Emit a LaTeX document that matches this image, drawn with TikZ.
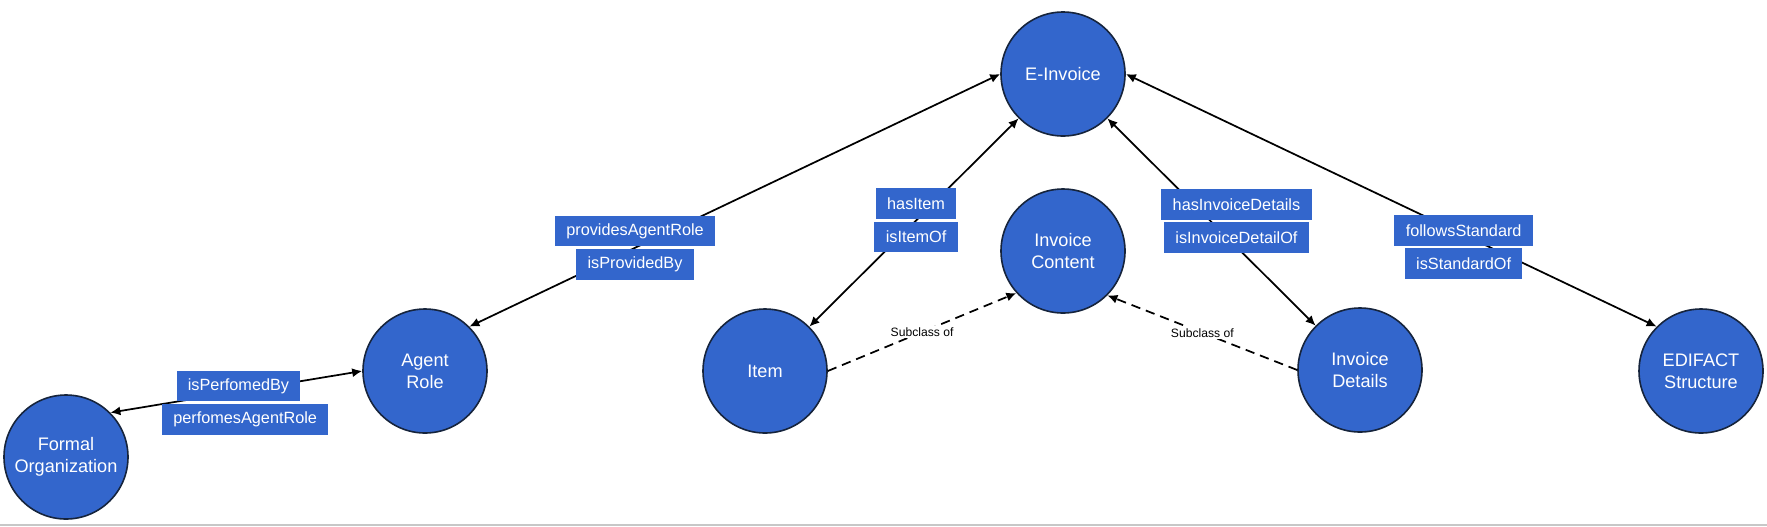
\documentclass[tikz,border=0pt]{standalone}
\usepackage{fontspec}
\setmainfont{Liberation Sans}
\usetikzlibrary{arrows.meta,positioning}
\definecolor{nodeblue}{RGB}{51,102,204}
\definecolor{nodeline}{RGB}{22,36,60}

\begin{document}
\begin{tikzpicture}[x=0.75pt,y=-0.75pt,
concept/.style = {circle, fill=nodeblue, draw=nodeline, line width=1.2pt, minimum size=93pt, inner sep=0pt, align=center, text=white, font=\fontsize{13.6}{16.5}\selectfont},
relbox/.style = {fill=nodeblue, text=white, inner xsep=8.5pt, inner ysep=0pt, minimum height=23pt, font=\fontsize{12.2}{14}\selectfont},
rel/.style = {{Latex[length=7.5pt,width=6.8pt]}-{Latex[length=7.5pt,width=6.8pt]}, line width=1.3pt},
subcl/.style = {-{Latex[length=7.5pt,width=6.8pt]}, dash pattern=on 7pt off 4.5pt, line width=1.3pt},
subcllabel/.style = {fill=white, inner sep=1.5pt, font=\fontsize{9.1}{11}\selectfont}]
\useasboundingbox (0,0) rectangle (1767,526);
\draw[black!22, line width=1.5pt] (0,525) -- (1767,525);

\node[concept] (einv) at (1063,74) {E-Invoice};
\node[concept] (content) at (1063,251) {Invoice\\Content};
\node[concept] (agent) at (425,371) {Agent\\Role};
\node[concept] (item) at (765,371) {Item};
\node[concept] (details) at (1360,370) {Invoice\\Details};
\node[concept] (edifact) at (1701,371) {EDIFACT\\Structure};
\node[concept] (formal) at (66,457) {Formal\\Organization};

\draw[rel] (einv.west) -- (agent.45)
  node[relbox, pos=0.688, anchor=south, yshift=0.4pt] {providesAgentRole}
  node[relbox, pos=0.688, anchor=north, yshift=-0.4pt] {isProvidedBy};
\draw[rel] (einv.225) -- (item.45)
  node[relbox, pos=0.49, anchor=south, yshift=0.4pt] {hasItem}
  node[relbox, pos=0.49, anchor=north, yshift=-0.4pt] {isItemOf};
\draw[rel] (einv.315) -- (details.135)
  node[relbox, pos=0.495, anchor=south, xshift=19.5pt, yshift=0.4pt] {hasInvoiceDetails}
  node[relbox, pos=0.495, anchor=north, xshift=19.5pt, yshift=-0.4pt] {isInvoiceDetailOf};
\draw[rel] (einv.east) -- (edifact.135)
  node[relbox, pos=0.685, anchor=south, xshift=-19.3pt, yshift=0.4pt] {followsStandard}
  node[relbox, pos=0.685, anchor=north, xshift=-19.3pt, yshift=-0.4pt] {isStandardOf};
\draw[rel] (agent.west) -- (formal.45)
  node[relbox, pos=0.486, anchor=south, yshift=-8.2pt, xshift=-1pt] {isPerfomedBy}
  node[relbox, pos=0.486, anchor=north, yshift=-9pt, xshift=4pt] {perfomesAgentRole};

\draw[subcl] (item.east) -- (content.222) node[subcllabel, midway] {Subclass of};
\draw[subcl] (details.west) -- (content.315) node[subcllabel, midway] {Subclass of};
\end{tikzpicture}
\end{document}
